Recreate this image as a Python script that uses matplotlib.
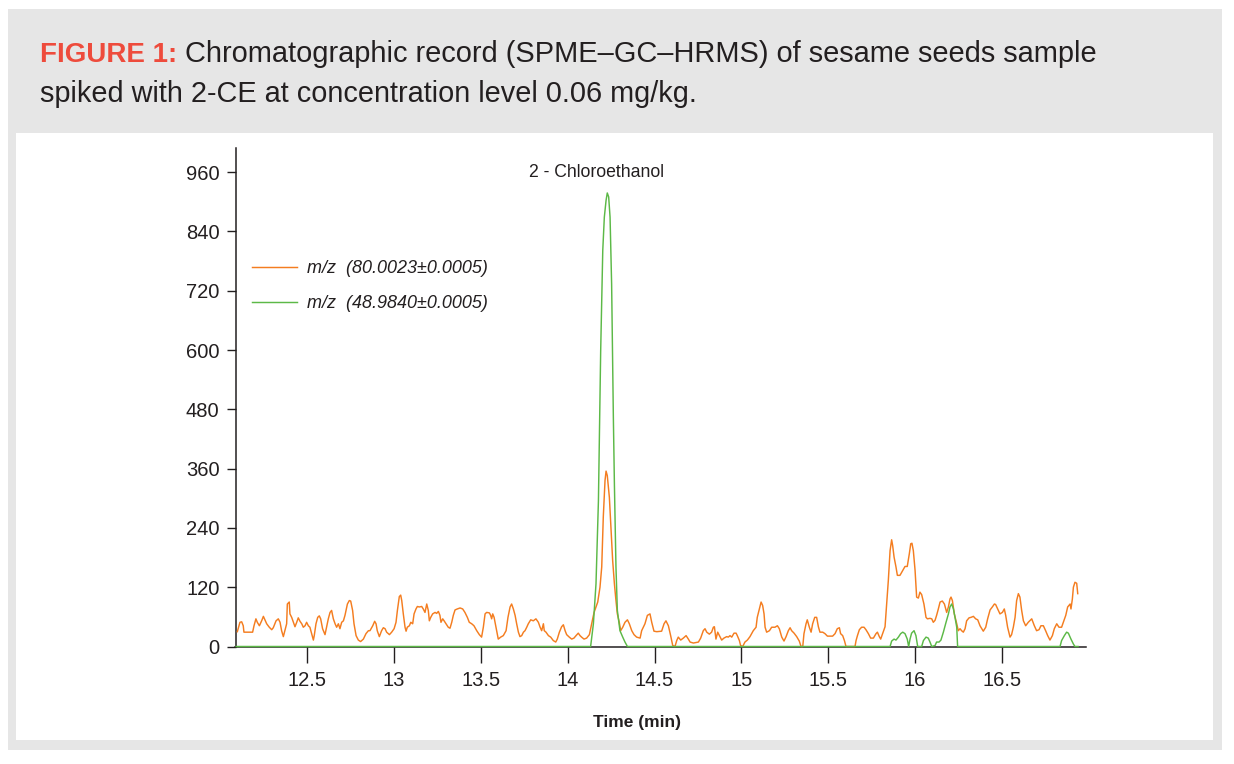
import matplotlib
matplotlib.use('Agg')
import matplotlib.pyplot as plt
from matplotlib.patches import Rectangle
from matplotlib.ticker import FuncFormatter

plt.rcParams['font.family'] = ['Liberation Sans', 'DejaVu Sans']

# m/z 80.0023 trace (orange)
orange_t = [
    12.097, 12.112, 12.122, 12.131, 12.135, 12.160, 12.185, 12.193, 12.204, 12.212,
    12.224, 12.237, 12.247, 12.256, 12.266, 12.281, 12.295, 12.304, 12.320, 12.333,
    12.343, 12.352, 12.362, 12.371, 12.381, 12.385, 12.396, 12.400, 12.410, 12.420,
    12.429, 12.439, 12.448, 12.458, 12.468, 12.477, 12.487, 12.496, 12.506, 12.515,
    12.525, 12.535, 12.540, 12.550, 12.560, 12.569, 12.577, 12.588, 12.602, 12.611,
    12.621, 12.631, 12.640, 12.650, 12.660, 12.669, 12.679, 12.688, 12.698, 12.708,
    12.717, 12.731, 12.742, 12.750, 12.761, 12.769, 12.781, 12.794, 12.807, 12.823,
    12.838, 12.852,
    12.861, 12.877, 12.888, 12.896, 12.903, 12.915, 12.928, 12.938, 12.948, 12.957,
    12.973, 12.986, 13.000, 13.011, 13.019, 13.030, 13.038, 13.044, 13.053, 13.063,
    13.069, 13.076, 13.088, 13.096, 13.107, 13.115, 13.126, 13.134, 13.145, 13.159,
    13.168, 13.178, 13.188, 13.197, 13.203, 13.211, 13.222, 13.236, 13.245, 13.255,
    13.264, 13.270, 13.280, 13.288, 13.299, 13.312, 13.322, 13.332, 13.341, 13.351,
    13.364, 13.380, 13.395, 13.408, 13.422, 13.433, 13.447, 13.460, 13.476, 13.491,
    13.504, 13.514, 13.524, 13.533, 13.549, 13.556, 13.562, 13.568, 13.576, 13.587,
    13.600, 13.614, 13.629, 13.645, 13.656, 13.668, 13.677, 13.687,
    13.697, 13.706, 13.716, 13.725, 13.735, 13.745, 13.754, 13.764, 13.773, 13.787,
    13.802, 13.817, 13.831, 13.841, 13.850, 13.860, 13.865, 13.875, 13.889, 13.902,
    13.917, 13.931, 13.940, 13.952, 13.965, 13.975, 13.985, 13.994,
    14.009, 14.023, 14.036, 14.048, 14.061, 14.071, 14.080, 14.094, 14.109, 14.125,
    14.132, 14.144, 14.152, 14.163, 14.173,
    14.186, 14.196, 14.205, 14.215, 14.221, 14.228, 14.240, 14.249, 14.259, 14.269,
    14.278, 14.286, 14.297, 14.305, 14.317, 14.330, 14.344, 14.355, 14.369, 14.382,
    14.397, 14.417, 14.426, 14.445, 14.459,
    14.474, 14.484, 14.497, 14.513, 14.541, 14.555, 14.566, 14.580, 14.593, 14.605,
    14.618, 14.628, 14.637, 14.651, 14.666, 14.682, 14.695, 14.705, 14.724, 14.753,
    14.766, 14.781, 14.791, 14.801, 14.816, 14.829, 14.839, 14.845, 14.854, 14.864,
    14.874, 14.887, 14.900, 14.916, 14.925, 14.935, 14.945, 14.958, 14.970, 14.977,
    14.989, 14.996, 15.008, 15.021, 15.035, 15.050, 15.069, 15.085, 15.092, 15.104,
    15.114, 15.123, 15.131, 15.137, 15.146, 15.162, 15.175, 15.194, 15.208, 15.219,
    15.233, 15.246, 15.258, 15.271,
    15.281, 15.290, 15.304, 15.319, 15.334, 15.344, 15.354, 15.361, 15.373, 15.380,
    15.392, 15.402, 15.411, 15.423, 15.434, 15.444, 15.453, 15.469, 15.482, 15.496,
    15.511, 15.526, 15.540, 15.553, 15.565, 15.572, 15.584, 15.594, 15.603, 15.617,
    15.655, 15.661, 15.669, 15.680, 15.693, 15.707, 15.718, 15.732, 15.745, 15.761,
    15.776, 15.784, 15.795, 15.803, 15.814, 15.828, 15.837, 15.847, 15.857, 15.866,
    15.872, 15.880, 15.891, 15.899, 15.914, 15.930, 15.943, 15.956, 15.968, 15.976,
    15.983, 15.991, 16.001, 16.010, 16.020, 16.029, 16.039, 16.052, 16.064, 16.072,
    16.087, 16.097, 16.106,
    16.116, 16.125, 16.135, 16.145, 16.158, 16.170, 16.183, 16.193, 16.202, 16.208,
    16.216, 16.227, 16.241, 16.250, 16.260, 16.269, 16.279, 16.289, 16.298, 16.312,
    16.323, 16.337, 16.350, 16.362, 16.375, 16.394, 16.408, 16.419, 16.433, 16.446,
    16.458, 16.465, 16.477, 16.490, 16.504, 16.515, 16.523, 16.534, 16.548, 16.557,
    16.567, 16.577, 16.586, 16.596, 16.605, 16.615, 16.625, 16.638, 16.653, 16.673,
    16.688, 16.701, 16.715, 16.726, 16.740, 16.753, 16.765, 16.778, 16.792, 16.803,
    16.817, 16.830, 16.845, 16.855, 16.869, 16.880, 16.894, 16.899, 16.907, 16.913,
    16.922, 16.932, 16.938,
]
orange_v = [
    30, 49, 50, 42, 29, 29, 29, 42, 56, 49,
    42, 52, 61, 54, 46, 39, 34, 38, 52, 56,
    49, 32, 20, 32, 46, 86, 90, 66, 59, 49,
    40, 49, 58, 51, 46, 39, 42, 49, 42, 39,
    26, 13, 22, 46, 59, 62, 56, 36, 24, 39,
    56, 69, 73, 56, 46, 39, 46, 36, 49, 52,
    63, 86, 93, 92, 73, 46, 22, 13, 10, 15,
    26, 32,
    32, 42, 51, 46, 32, 20, 32, 38, 36, 29,
    24, 29, 36, 49, 73, 101, 104, 93, 66, 39,
    31, 39, 42, 49, 46, 66, 76, 81, 80, 81,
    76, 69, 86, 73, 52, 59, 66, 69, 67, 71,
    63, 49, 56, 52, 46, 39, 37, 49, 63, 74,
    76, 78, 76, 69, 59, 49, 46, 42, 32, 24,
    19, 39, 66, 69, 68, 63, 56, 66, 59, 39,
    15, 19, 22, 32, 59, 80, 86, 76,
    63, 46, 29, 20, 22, 29, 32, 39, 46, 54,
    52, 56, 49, 39, 32, 46, 32, 29, 22, 19,
    12, 9, 15, 29, 40, 44, 32, 24,
    19, 15, 17, 22, 27, 22, 19, 15, 17, 24,
    36, 56, 69, 80, 90,
    120, 161, 262, 336, 355, 346, 302, 241, 174, 127,
    93, 66, 49, 32, 39, 49, 54, 46, 32, 24,
    19, 17, 32, 46, 63,
    66, 49, 31, 30, 31, 46, 52, 42, 22, 2,
    0, 12, 19, 13, 17, 22, 15, 9, 7, 9,
    17, 32, 36, 29, 25, 29, 39, 40, 15, 29,
    22, 13, 17, 20, 19, 22, 19, 27, 27, 22,
    12, 2, 0, 9, 13, 20, 32, 39, 59, 76,
    90, 83, 66, 39, 29, 32, 39, 39, 42, 36,
    19, 11, 20, 32,
    38, 32, 27, 20, 11, 0, 0, 26, 46, 54,
    39, 29, 46, 59, 59, 40, 29, 29, 26, 21,
    21, 21, 26, 36, 38, 26, 22, 12, 0, 0,
    0, 12, 22, 34, 39, 39, 34, 26, 17, 17,
    26, 29, 20, 15, 26, 40, 86, 134, 194, 216,
    204, 181, 161, 144, 144, 154, 162, 162, 188, 208,
    209, 194, 154, 100, 98, 110, 105, 86, 59, 56,
    57, 56, 49,
    53, 63, 76, 90, 92, 86, 69, 80, 96, 100,
    93, 66, 46, 32, 36, 32, 29, 36, 52, 58,
    59, 61, 56, 54, 42, 31, 39, 56, 74, 80,
    86, 85, 76, 66, 69, 76, 63, 39, 19, 24,
    39, 59, 93, 107, 100, 73, 52, 42, 49, 56,
    42, 32, 34, 42, 42, 32, 22, 13, 22, 36,
    46, 39, 39, 49, 63, 80, 86, 76, 96, 120,
    130, 128, 107,
]

# m/z 48.9840 trace (green)
green_t = [
    12.09, 14.132, 14.148, 14.163, 14.177, 14.190, 14.202, 14.211, 14.221, 14.228,
    14.236, 14.244, 14.253, 14.263, 14.269, 14.278, 14.286, 14.301, 14.317, 14.330,
    14.344,
    15.857, 15.866, 15.880, 15.891, 15.905, 15.918, 15.930, 15.943, 15.956, 15.964,
    15.972, 15.981, 15.995, 16.006, 16.016,
    16.039, 16.049, 16.064, 16.077, 16.087, 16.097,
    16.116, 16.125, 16.139, 16.150, 16.164, 16.177, 16.193, 16.202, 16.212, 16.222,
    16.231, 16.241, 16.246,
    16.836, 16.845, 16.861, 16.874, 16.884, 16.899, 16.913, 16.922, 16.94,
]
green_v = [
    0, 0, 46, 127, 295, 599, 802, 869, 903, 918,
    910, 869, 734, 464, 329, 161, 73, 32, 19, 9,
    0,
    0, 11, 15, 13, 19, 26, 29, 26, 15, 0,
    15, 27, 32, 22, 0,
    0, 12, 19, 17, 9, 0,
    2, 9, 9, 13, 29, 46, 66, 80, 86, 76,
    59, 39, 0,
    0, 12, 22, 29, 27, 15, 5, 0, 0,
]

x_ticks = [12.5, 13, 13.5, 14, 14.5, 15, 15.5, 16, 16.5]
y_ticks = [0, 120, 240, 360, 480, 600, 720, 840, 960]
series_labels = ['m/z  (80.0023\u00b10.0005)', 'm/z  (48.9840\u00b10.0005)']
peak_label = '2 - Chloroethanol'
peak_time = 14.164

ink = '#231f20'
orange = '#f47d20'
green = '#5cb947'

W, H = 1234, 764
fig = plt.figure(figsize=(W / 100, H / 100), dpi=100)
fig.patches.append(Rectangle((8 / W, 14 / H), 1214 / W, 741 / H, transform=fig.transFigure,
                             facecolor='#e6e6e6', edgecolor='none', zorder=-3))
fig.patches.append(Rectangle((16 / W, 24 / H), 1197 / W, 607 / H, transform=fig.transFigure,
                             facecolor='white', edgecolor='none', zorder=-2))

ax = fig.add_axes([235.5 / W, 117.5 / H, 850.5 / W, 498.5 / H])
ax.set_facecolor('none')

ax.plot(orange_t, orange_v, color=orange, lw=1.05, clip_on=False, zorder=3, label=series_labels[0])
ax.plot(green_t, green_v, color=green, lw=1.05, clip_on=False, zorder=3, label=series_labels[1])

ax.set_xlim(12.0864, 16.9856)
ax.set_ylim(0, 1009)
ax.set_xticks(x_ticks)
ax.set_yticks(y_ticks)
ax.xaxis.set_major_formatter(FuncFormatter(lambda v, p: '{:g}'.format(v)))

for s in ['top', 'right']:
    ax.spines[s].set_visible(False)
for s in ['left', 'bottom']:
    ax.spines[s].set_color(ink)
    ax.spines[s].set_linewidth(1.1)
ax.tick_params(axis='x', length=11.5, width=1.0, color=ink, labelcolor=ink, labelsize=14.5, pad=6)
ax.tick_params(axis='y', length=6.5, width=1.0, color=ink, labelcolor=ink, labelsize=14.5, pad=5)

ax.set_xlabel('Time (min)', fontsize=12.5, fontweight='bold', color=ink)
ax.xaxis.set_label_coords(0.472, -0.137)

ax.text(peak_time, 960, peak_label, ha='center', va='center', fontsize=12.7, color=ink)

leg = ax.legend(loc='upper left', bbox_to_anchor=(0.0194, 0.775), frameon=False,
                handlelength=2.5, handletextpad=0.55, labelspacing=1.0,
                borderpad=0, borderaxespad=0,
                prop={'size': 13, 'style': 'italic'})
for t in leg.get_texts():
    t.set_color(ink)

# caption
t1 = fig.text(40 / W, 1 - 62 / H, 'FIGURE 1:', color='#ee4b3c', fontsize=20,
              fontweight='bold', va='baseline')
ax.annotate(' Chromatographic record (SPME\u2013GC\u2013HRMS) of sesame seeds sample',
            xy=(1, 0), xycoords=t1, va='bottom', ha='left', fontsize=20.9, color=ink,
            annotation_clip=False)
fig.text(40 / W, 1 - 102 / H, 'spiked with 2-CE at concentration level 0.06 mg/kg.',
         fontsize=20.8, color=ink, va='baseline')

fig.savefig('out.png', dpi=100)
